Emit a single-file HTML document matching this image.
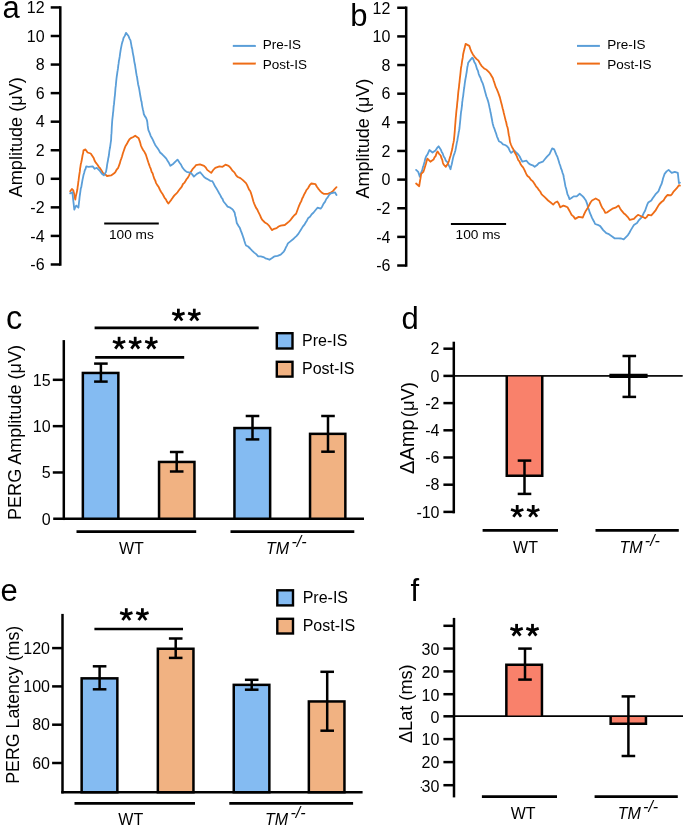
<!DOCTYPE html>
<html><head><meta charset="utf-8"><style>
html,body{margin:0;padding:0;background:#fff;}
svg{display:block;will-change:transform;}
text{font-family:"Liberation Sans", sans-serif;fill:#000;}
</style></head><body>
<svg width="685" height="827" viewBox="0 0 685 827">
<rect width="685" height="827" fill="#fff"/>
<line x1="60.30" y1="6.19" x2="60.30" y2="265.73" stroke="#000" stroke-width="2.5" stroke-linecap="butt"/>
<line x1="50.70" y1="264.48" x2="60.30" y2="264.48" stroke="#000" stroke-width="2.5" stroke-linecap="butt"/>
<text x="44.60" y="270.21" font-size="16" text-anchor="end"  >-6</text>
<line x1="50.70" y1="235.92" x2="60.30" y2="235.92" stroke="#000" stroke-width="2.5" stroke-linecap="butt"/>
<text x="44.60" y="241.65" font-size="16" text-anchor="end"  >-4</text>
<line x1="50.70" y1="207.36" x2="60.30" y2="207.36" stroke="#000" stroke-width="2.5" stroke-linecap="butt"/>
<text x="44.60" y="213.09" font-size="16" text-anchor="end"  >-2</text>
<line x1="50.70" y1="178.80" x2="60.30" y2="178.80" stroke="#000" stroke-width="2.5" stroke-linecap="butt"/>
<text x="44.60" y="184.53" font-size="16" text-anchor="end"  >0</text>
<line x1="50.70" y1="150.24" x2="60.30" y2="150.24" stroke="#000" stroke-width="2.5" stroke-linecap="butt"/>
<text x="44.60" y="155.97" font-size="16" text-anchor="end"  >2</text>
<line x1="50.70" y1="121.68" x2="60.30" y2="121.68" stroke="#000" stroke-width="2.5" stroke-linecap="butt"/>
<text x="44.60" y="127.41" font-size="16" text-anchor="end"  >4</text>
<line x1="50.70" y1="93.12" x2="60.30" y2="93.12" stroke="#000" stroke-width="2.5" stroke-linecap="butt"/>
<text x="44.60" y="98.85" font-size="16" text-anchor="end"  >6</text>
<line x1="50.70" y1="64.56" x2="60.30" y2="64.56" stroke="#000" stroke-width="2.5" stroke-linecap="butt"/>
<text x="44.60" y="70.29" font-size="16" text-anchor="end"  >8</text>
<line x1="50.70" y1="36.00" x2="60.30" y2="36.00" stroke="#000" stroke-width="2.5" stroke-linecap="butt"/>
<text x="44.60" y="41.73" font-size="16" text-anchor="end"  >10</text>
<line x1="50.70" y1="7.44" x2="60.30" y2="7.44" stroke="#000" stroke-width="2.5" stroke-linecap="butt"/>
<text x="44.60" y="13.17" font-size="16" text-anchor="end"  >12</text>
<text x="2.60" y="17.60" font-size="31" text-anchor="start"  >a</text>
<text transform="translate(22.00,197.30) rotate(-90)" font-size="18" textLength="120" lengthAdjust="spacingAndGlyphs">Amplitude (<tspan>&#956;</tspan>V)</text>
<line x1="406.20" y1="6.51" x2="406.20" y2="266.77" stroke="#000" stroke-width="2.5" stroke-linecap="butt"/>
<line x1="397.20" y1="265.52" x2="406.20" y2="265.52" stroke="#000" stroke-width="2.5" stroke-linecap="butt"/>
<text x="390.40" y="271.25" font-size="16" text-anchor="end"  >-6</text>
<line x1="397.20" y1="236.88" x2="406.20" y2="236.88" stroke="#000" stroke-width="2.5" stroke-linecap="butt"/>
<text x="390.40" y="242.61" font-size="16" text-anchor="end"  >-4</text>
<line x1="397.20" y1="208.24" x2="406.20" y2="208.24" stroke="#000" stroke-width="2.5" stroke-linecap="butt"/>
<text x="390.40" y="213.97" font-size="16" text-anchor="end"  >-2</text>
<line x1="397.20" y1="179.60" x2="406.20" y2="179.60" stroke="#000" stroke-width="2.5" stroke-linecap="butt"/>
<text x="390.40" y="185.33" font-size="16" text-anchor="end"  >0</text>
<line x1="397.20" y1="150.96" x2="406.20" y2="150.96" stroke="#000" stroke-width="2.5" stroke-linecap="butt"/>
<text x="390.40" y="156.69" font-size="16" text-anchor="end"  >2</text>
<line x1="397.20" y1="122.32" x2="406.20" y2="122.32" stroke="#000" stroke-width="2.5" stroke-linecap="butt"/>
<text x="390.40" y="128.05" font-size="16" text-anchor="end"  >4</text>
<line x1="397.20" y1="93.68" x2="406.20" y2="93.68" stroke="#000" stroke-width="2.5" stroke-linecap="butt"/>
<text x="390.40" y="99.41" font-size="16" text-anchor="end"  >6</text>
<line x1="397.20" y1="65.04" x2="406.20" y2="65.04" stroke="#000" stroke-width="2.5" stroke-linecap="butt"/>
<text x="390.40" y="70.77" font-size="16" text-anchor="end"  >8</text>
<line x1="397.20" y1="36.40" x2="406.20" y2="36.40" stroke="#000" stroke-width="2.5" stroke-linecap="butt"/>
<text x="390.40" y="42.13" font-size="16" text-anchor="end"  >10</text>
<line x1="397.20" y1="7.76" x2="406.20" y2="7.76" stroke="#000" stroke-width="2.5" stroke-linecap="butt"/>
<text x="390.40" y="13.49" font-size="16" text-anchor="end"  >12</text>
<text x="350.20" y="26.20" font-size="31" text-anchor="start"  >b</text>
<text transform="translate(368.80,198.60) rotate(-90)" font-size="18" textLength="120" lengthAdjust="spacingAndGlyphs">Amplitude (<tspan>&#956;</tspan>V)</text>
<line x1="232.80" y1="45.90" x2="255.80" y2="45.90" stroke="#5a9ed8" stroke-width="2.0" stroke-linecap="butt"/>
<line x1="232.80" y1="63.60" x2="255.80" y2="63.60" stroke="#ee6c16" stroke-width="2.0" stroke-linecap="butt"/>
<text x="262.80" y="49.40" font-size="13.5" text-anchor="start"  >Pre-IS</text>
<text x="262.80" y="68.80" font-size="13.5" text-anchor="start"  >Post-IS</text>
<line x1="577.00" y1="45.90" x2="599.90" y2="45.90" stroke="#5a9ed8" stroke-width="2.0" stroke-linecap="butt"/>
<line x1="577.00" y1="63.60" x2="599.90" y2="63.60" stroke="#ee6c16" stroke-width="2.0" stroke-linecap="butt"/>
<text x="607.30" y="49.40" font-size="13.5" text-anchor="start"  >Pre-IS</text>
<text x="607.30" y="68.80" font-size="13.5" text-anchor="start"  >Post-IS</text>
<line x1="104.20" y1="223.50" x2="158.80" y2="223.50" stroke="#000" stroke-width="2.0" stroke-linecap="butt"/>
<text x="131.40" y="239.30" font-size="13.7" text-anchor="middle"  >100 ms</text>
<line x1="450.90" y1="224.00" x2="506.10" y2="224.00" stroke="#000" stroke-width="2.0" stroke-linecap="butt"/>
<text x="478.00" y="239.30" font-size="13.7" text-anchor="middle"  >100 ms</text>
<polyline points="70.2,191.3 71.9,188.9 73.3,190.3 73.8,192.4 74.3,194.5 74.8,197.4 75.3,199.5 75.8,196.4 76.3,194.4 76.9,191.7 77.4,189.3 77.7,186.5 78.0,184.8 78.3,182.0 78.6,180.2 78.9,177.5 79.2,175.3 79.5,173.5 79.8,171.7 80.1,168.6 80.4,166.8 80.8,164.1 81.3,162.3 81.7,160.3 82.2,157.5 82.6,155.0 83.1,153.3 83.5,150.4 85.5,149.4 87.6,152.5 90.7,153.5 92.7,156.6 93.7,158.1 94.8,161.1 95.8,162.7 97.3,164.5 98.8,166.8 100.2,168.4 101.5,170.4 102.9,172.9 105.0,174.2 107.0,176.0 111.1,175.4 114.2,173.3 115.5,171.8 116.9,169.3 118.2,167.8 119.0,165.6 119.8,163.4 120.5,160.7 121.3,158.6 122.1,156.2 122.9,153.2 123.8,150.7 124.6,148.4 125.4,146.3 126.8,144.1 128.1,141.5 129.5,139.2 131.4,137.8 133.3,137.0 135.2,135.7 138.7,138.2 139.4,140.4 140.2,142.6 140.9,145.5 141.7,147.4 143.1,150.0 144.4,151.8 145.8,154.5 146.6,157.0 147.4,159.5 148.3,162.3 149.1,164.6 149.9,166.8 150.8,168.9 151.7,172.0 152.6,173.3 153.4,176.0 154.3,178.8 155.2,180.4 156.1,183.1 157.3,185.1 158.5,186.7 159.8,189.5 161.0,191.7 162.2,193.4 163.4,195.5 164.6,197.9 165.9,199.3 167.1,201.8 168.3,203.6 169.8,201.7 171.4,199.6 172.9,197.4 174.4,195.4 175.9,194.0 177.5,192.3 179.1,190.0 180.6,188.2 181.8,186.6 183.0,184.0 184.3,182.9 185.5,181.0 186.7,179.0 187.9,177.6 189.1,175.3 190.4,172.6 191.6,170.7 192.8,168.8 194.4,167.2 195.9,165.2 200.0,164.3 204.1,165.8 205.6,167.3 207.2,169.9 209.2,171.4 211.2,172.9 213.2,170.0 215.3,167.8 219.4,166.4 222.5,166.8 225.5,164.7 228.6,165.8 230.6,167.9 232.7,170.9 234.4,172.4 236.1,175.3 237.8,177.0 240.4,178.1 242.9,180.1 246.0,183.1 247.0,184.9 248.0,187.1 249.1,189.7 250.1,190.8 251.1,193.4 251.9,195.9 252.6,198.6 253.4,201.5 254.2,203.6 255.2,206.0 256.2,208.1 257.2,209.4 258.2,211.7 259.2,213.6 260.2,215.6 261.3,218.3 262.3,219.9 264.9,222.5 267.4,224.0 268.9,225.6 270.4,227.7 271.9,230.1 274.2,228.8 276.6,228.1 278.6,226.5 280.7,225.6 284.8,225.0 286.9,223.3 288.9,221.6 290.7,219.8 292.5,217.4 294.3,215.2 296.1,213.8 297.1,211.0 298.1,208.2 299.1,205.6 300.1,203.3 301.2,201.4 302.2,198.5 303.2,196.7 304.2,194.4 305.3,192.5 306.3,190.3 308.0,188.2 309.7,185.2 311.4,183.5 315.5,184.2 316.9,186.7 318.2,188.6 319.6,190.3 321.6,192.5 323.6,193.8 327.7,193.8 330.2,192.9 332.8,191.3 334.6,189.1 336.5,187.2" fill="none" stroke="#ee6c16" stroke-width="1.8" stroke-linejoin="round" stroke-linecap="round"/>
<polyline points="70.2,193.4 72.3,192.3 72.6,194.7 72.9,196.8 73.2,199.9 73.4,201.7 73.7,204.2 74.0,206.9 74.3,209.7 75.3,207.2 76.3,205.6 78.4,207.7 78.7,205.2 79.0,202.5 79.3,200.1 79.5,197.9 79.8,195.5 80.1,193.5 80.4,191.3 80.8,188.4 81.3,187.1 81.7,184.5 82.2,181.6 82.6,179.4 83.1,177.1 83.5,175.0 84.2,172.7 84.8,170.2 85.5,169.0 86.2,166.4 88.6,166.8 92.7,166.4 94.7,168.8 96.8,167.8 99.9,170.9 101.9,173.7 103.9,175.4 106.0,171.9 106.4,169.7 106.8,167.5 107.1,164.9 107.5,162.7 107.9,160.8 108.2,158.6 108.6,157.1 109.0,154.5 109.3,151.7 109.7,149.1 110.0,147.8 110.4,144.9 110.8,142.0 111.1,140.0 111.2,137.8 111.3,135.0 111.5,133.4 111.6,131.7 111.7,129.3 111.8,126.9 112.0,124.1 112.1,122.2 112.3,119.8 112.6,117.2 112.8,115.7 113.0,113.1 113.3,111.1 113.5,108.3 113.7,105.9 114.0,104.4 114.2,101.7 114.4,100.0 114.6,97.6 114.9,95.3 115.1,93.0 115.3,90.7 115.5,87.8 115.8,85.9 116.0,83.4 116.2,81.3 116.5,78.5 116.8,76.2 117.1,74.2 117.4,71.9 117.7,70.2 118.0,68.2 118.3,65.4 118.6,63.7 118.9,60.9 119.3,59.1 119.7,56.7 120.1,53.6 120.5,51.0 120.9,48.7 121.3,46.6 121.8,44.1 122.4,41.9 123.0,40.3 123.5,38.0 124.8,35.9 126.0,32.9 128.5,36.0 129.5,38.6 130.5,40.4 130.9,42.7 131.4,45.3 131.8,47.8 132.3,49.3 132.7,52.3 133.2,54.9 133.6,56.8 134.0,59.4 134.3,61.6 134.7,63.5 135.1,65.3 135.5,68.3 135.8,70.0 136.2,72.8 136.6,75.2 137.0,76.7 137.3,79.0 137.7,81.3 138.1,84.2 138.6,86.3 139.0,87.9 139.4,90.2 139.8,92.6 140.3,95.8 140.7,97.7 141.1,100.4 141.6,101.9 142.0,105.1 142.5,107.6 142.9,109.5 143.4,111.5 143.8,114.0 144.8,116.1 145.9,117.6 146.9,120.0 147.3,122.0 147.7,125.7 148.0,127.8 148.4,130.2 149.6,132.9 150.8,136.1 152.0,138.2 153.0,140.1 154.1,142.7 155.1,144.7 156.1,146.3 157.4,148.0 158.8,150.1 160.1,152.5 162.2,154.3 164.2,156.3 166.3,158.6 167.7,161.1 169.0,163.1 170.4,165.8 173.4,163.7 175.4,161.6 177.5,159.6 179.6,162.7 181.1,164.8 182.6,167.8 184.6,170.3 186.7,171.9 190.8,172.9 192.4,174.6 193.9,176.6 196.9,173.9 200.0,172.2 202.1,174.5 204.1,177.0 206.1,178.4 208.2,179.5 210.2,180.8 212.3,181.1 213.6,183.4 215.0,186.3 216.3,188.2 217.7,190.6 219.0,193.0 220.4,195.4 221.4,197.5 222.5,198.9 223.5,201.5 225.6,204.0 227.6,206.6 229.6,207.3 231.7,208.7 233.2,210.2 234.7,212.8 235.2,215.7 235.8,217.5 236.3,220.4 236.8,223.0 238.4,225.8 239.9,228.1 240.9,230.9 241.9,233.4 242.9,236.3 243.7,238.6 244.4,241.0 245.2,243.5 246.0,245.5 248.1,246.5 250.1,248.5 252.1,250.6 254.2,252.6 256.2,254.1 258.2,256.3 260.8,256.4 263.4,257.1 265.4,258.3 267.5,258.9 269.5,259.8 272.1,258.1 274.6,256.3 277.6,255.8 280.7,254.7 283.8,251.6 284.8,250.0 285.9,247.4 286.9,245.6 287.9,243.4 290.4,241.4 293.0,239.3 294.7,237.6 296.4,236.1 298.1,234.2 299.4,232.1 300.6,230.2 301.9,228.1 303.2,226.1 304.5,224.6 305.8,222.2 307.0,220.4 308.3,217.9 310.0,216.7 311.7,214.2 313.4,212.8 315.4,210.3 317.5,207.7 320.6,208.7 322.1,206.7 323.6,203.6 325.0,201.9 326.3,199.0 327.7,197.4 329.2,194.9 330.8,193.4 334.9,192.3 336.5,195.0" fill="none" stroke="#5a9ed8" stroke-width="1.8" stroke-linejoin="round" stroke-linecap="round"/>
<polyline points="416.1,169.9 418.2,171.9 419.0,174.2 419.8,176.6 420.6,173.9 421.5,171.8 422.3,169.9 422.9,167.1 423.5,165.6 424.1,163.5 424.7,161.3 425.3,158.6 426.3,156.0 427.4,154.6 428.4,152.3 429.4,150.0 432.5,152.5 435.5,150.4 437.1,147.9 438.6,146.3 440.7,149.4 441.7,151.9 442.7,153.5 443.7,156.5 444.8,158.0 445.8,160.7 447.8,162.7 448.7,165.4 449.6,166.9 450.5,169.2 451.1,166.5 451.7,164.5 452.3,161.6 452.9,158.6 453.7,155.5 454.6,153.1 455.4,150.4 455.9,147.9 456.4,145.1 456.9,142.4 457.4,140.2 457.8,137.5 458.2,135.6 458.7,132.3 459.1,130.5 459.5,128.0 459.7,125.6 460.0,122.8 460.2,120.8 460.4,118.8 460.6,116.4 460.9,113.5 461.1,111.7 461.4,110.1 461.7,107.6 462.0,105.7 462.2,102.4 462.5,100.4 462.8,97.9 463.1,96.6 463.4,93.8 463.7,91.5 463.9,89.6 464.2,88.0 464.5,85.7 464.8,83.1 465.2,80.5 465.6,78.1 465.9,76.8 466.3,74.1 466.7,72.0 467.1,69.0 467.4,66.7 467.8,65.2 468.2,62.7 470.2,60.1 472.3,57.6 473.3,59.1 474.4,62.2 475.4,63.7 476.2,66.3 477.0,69.0 477.9,70.6 478.7,74.0 479.5,76.0 480.5,77.8 481.6,81.2 482.6,83.1 483.4,85.6 484.1,88.1 484.9,90.9 485.6,93.4 486.4,96.5 487.1,98.2 487.9,100.6 488.7,103.6 489.2,105.9 489.6,107.8 490.1,109.9 490.5,112.3 491.0,114.4 491.4,116.8 491.9,119.2 492.3,121.5 492.8,124.0 493.6,126.8 494.4,128.7 495.3,131.4 496.1,133.5 496.9,136.3 497.9,138.6 498.9,141.2 500.9,142.2 503.0,144.3 505.1,145.0 507.1,146.3 508.5,147.9 509.8,151.0 511.2,152.9 514.2,150.4 516.2,152.5 518.3,154.5 519.7,156.5 521.0,159.3 522.4,161.7 526.5,160.7 528.5,163.2 530.6,164.7 532.7,165.3 534.7,166.8 536.8,165.3 538.8,163.1 542.8,161.7 545.0,159.0 547.0,156.6 549.5,154.1 550.9,151.2 552.2,148.4 554.2,149.4 555.2,151.8 556.3,154.6 557.3,156.6 558.0,158.8 558.8,161.2 559.5,163.7 560.3,165.8 561.1,168.7 561.8,170.2 562.6,173.1 563.4,175.0 563.8,177.5 564.2,179.6 564.6,181.6 565.0,183.8 565.4,186.2 566.1,188.4 566.8,191.2 567.5,194.4 568.5,196.2 569.5,199.1 571.5,198.0 573.6,196.4 576.7,196.4 579.7,193.8 582.8,196.4 584.3,198.2 585.9,200.5 586.6,202.4 587.4,204.6 588.1,207.8 588.9,209.7 589.9,212.9 591.0,215.4 592.0,217.9 593.0,219.7 594.1,221.7 595.1,224.0 597.7,224.8 600.2,226.1 601.7,228.1 603.2,230.1 606.3,233.2 608.3,233.8 610.4,235.3 612.5,236.7 614.5,238.3 618.6,238.3 621.2,238.5 623.7,239.3 626.7,236.3 628.1,234.8 629.4,232.7 630.8,230.1 632.3,227.6 633.9,225.0 637.0,223.0 639.0,220.1 641.1,217.9 642.4,216.1 643.8,212.9 645.1,210.7 646.1,207.8 647.2,204.7 648.2,202.6 651.3,200.5 652.7,198.3 654.0,196.4 655.4,194.4 658.4,191.3 659.4,188.9 660.5,186.2 661.5,184.2 662.3,181.6 663.0,178.5 663.8,176.2 664.6,173.9 666.6,171.4 668.6,169.9 671.7,172.9 674.8,171.9 677.8,172.9 678.1,175.3 678.3,177.5 678.6,180.0 678.9,183.1 679.9,182.7" fill="none" stroke="#5a9ed8" stroke-width="1.8" stroke-linejoin="round" stroke-linecap="round"/>
<polyline points="416.1,183.5 419.2,186.2 419.6,183.5 420.0,181.0 420.4,178.9 420.8,176.4 421.2,173.9 423.3,171.9 424.0,170.0 424.7,167.7 425.4,165.5 426.0,163.5 426.7,160.7 427.4,158.6 430.4,161.7 433.5,159.6 434.5,157.4 435.6,156.1 436.6,153.1 437.6,151.5 439.1,153.8 440.7,155.5 441.4,158.0 442.2,159.6 442.9,162.8 443.7,164.7 445.8,166.8 447.8,163.7 448.9,161.1 449.9,157.6 450.6,155.4 451.2,153.1 451.9,150.4 452.4,148.3 452.9,145.0 453.4,142.9 453.9,140.4 454.1,138.2 454.3,136.3 454.5,134.1 454.7,131.8 454.9,129.3 455.0,127.5 455.2,125.0 455.4,122.7 455.6,119.9 455.8,117.5 456.0,115.8 456.2,113.1 456.4,111.1 456.7,108.5 456.9,107.1 457.1,104.5 457.3,102.4 457.6,100.1 457.8,97.9 458.0,95.4 458.2,93.2 458.5,90.3 458.7,89.1 459.0,86.8 459.2,84.3 459.5,82.1 459.7,80.0 460.0,77.1 460.2,75.6 460.5,72.8 460.7,70.9 461.0,68.0 461.4,65.9 461.7,64.1 462.1,61.2 462.4,59.5 462.8,57.4 463.1,54.5 463.7,51.8 464.4,49.1 465.0,46.5 465.6,43.9 469.3,45.9 470.3,48.9 471.3,51.5 472.9,54.4 474.4,56.6 476.4,58.8 478.5,60.7 480.0,63.4 481.5,65.8 484.6,68.8 486.6,69.8 488.7,71.9 490.1,73.5 491.4,75.7 492.8,78.0 493.6,80.6 494.3,82.4 495.1,85.0 495.8,87.2 496.8,89.2 497.9,91.8 498.9,94.6 499.9,97.4 500.6,100.3 501.3,103.1 502.0,105.6 502.6,108.3 503.2,110.3 503.8,113.0 504.4,115.4 505.0,117.9 505.6,120.3 506.2,122.3 506.9,125.7 507.5,127.3 508.1,130.1 508.5,133.1 508.9,135.5 509.3,136.8 509.7,139.8 510.1,142.3 511.1,145.0 512.2,147.5 513.2,149.1 514.2,151.5 515.2,153.3 516.3,155.2 517.3,157.6 518.3,160.2 519.4,161.3 520.4,163.7 521.7,165.9 523.1,167.4 524.4,169.9 525.4,172.0 526.5,174.5 527.5,176.0 529.2,177.3 530.9,179.8 532.6,181.1 534.3,183.5 536.0,186.3 537.7,188.2 539.0,190.2 540.2,191.5 541.5,194.1 542.8,195.4 545.0,197.4 548.1,200.5 550.7,202.5 553.2,204.6 555.2,202.5 557.3,201.5 558.8,203.8 560.3,207.3 563.4,205.6 565.5,206.4 567.5,207.3 568.9,209.7 570.2,212.1 571.6,214.8 573.4,216.4 575.2,218.9 578.7,216.9 582.8,217.5 583.8,215.0 584.9,212.7 585.9,210.7 587.4,208.6 588.9,205.6 590.5,202.5 592.0,200.5 595.7,198.5 599.2,200.5 600.2,203.2 601.2,205.7 602.2,207.7 603.8,209.8 605.3,212.8 607.3,212.3 609.4,210.7 612.4,208.7 615.5,207.7 618.6,205.6 620.1,208.4 621.6,210.7 623.7,213.2 625.7,214.8 627.8,217.1 629.8,219.9 633.9,218.9 636.0,216.7 638.0,214.8 641.1,216.2 643.1,217.1 645.1,218.3 646.7,217.1 648.2,214.8 651.3,215.4 653.3,213.2 655.4,210.7 656.8,208.3 658.1,206.1 659.5,204.0 661.5,202.0 663.5,200.5 664.9,198.1 666.2,196.4 667.6,195.0 670.7,195.4 672.2,193.8 673.8,191.3 676.8,188.2 678.9,185.2 679.9,185.6" fill="none" stroke="#ee6c16" stroke-width="1.8" stroke-linejoin="round" stroke-linecap="round"/>
<line x1="63.80" y1="340.10" x2="63.80" y2="520.05" stroke="#000" stroke-width="2.5" stroke-linecap="butt"/>
<line x1="53.20" y1="518.80" x2="364.00" y2="518.80" stroke="#000" stroke-width="2.5" stroke-linecap="butt"/>
<line x1="52.80" y1="379.82" x2="63.80" y2="379.82" stroke="#000" stroke-width="2.5" stroke-linecap="butt"/>
<text x="50.60" y="385.55" font-size="16" text-anchor="end"  >15</text>
<line x1="52.80" y1="426.15" x2="63.80" y2="426.15" stroke="#000" stroke-width="2.5" stroke-linecap="butt"/>
<text x="50.60" y="431.88" font-size="16" text-anchor="end"  >10</text>
<line x1="52.80" y1="472.47" x2="63.80" y2="472.47" stroke="#000" stroke-width="2.5" stroke-linecap="butt"/>
<text x="50.60" y="478.20" font-size="16" text-anchor="end"  >5</text>
<text x="50.60" y="524.53" font-size="16" text-anchor="end"  >0</text>
<text x="6.00" y="328.80" font-size="32.5" text-anchor="start"  >c</text>
<text transform="translate(21.20,520.00) rotate(-90)" font-size="18" textLength="175.0" lengthAdjust="spacingAndGlyphs">PERG Amplitude (<tspan>&#956;</tspan>V)</text>
<rect x="82.85" y="372.95" width="35.50" height="145.80" fill="#84bbf2" stroke="#000" stroke-width="2.5"/>
<rect x="159.05" y="461.95" width="35.40" height="56.80" fill="#f1b282" stroke="#000" stroke-width="2.5"/>
<rect x="234.45" y="428.05" width="35.70" height="90.70" fill="#84bbf2" stroke="#000" stroke-width="2.5"/>
<rect x="310.05" y="433.85" width="35.30" height="84.90" fill="#f1b282" stroke="#000" stroke-width="2.5"/>
<line x1="100.90" y1="363.60" x2="100.90" y2="381.60" stroke="#000" stroke-width="2.5" stroke-linecap="butt"/>
<line x1="94.10" y1="363.60" x2="107.70" y2="363.60" stroke="#000" stroke-width="2.5" stroke-linecap="butt"/>
<line x1="94.10" y1="381.60" x2="107.70" y2="381.60" stroke="#000" stroke-width="2.5" stroke-linecap="butt"/>
<line x1="176.70" y1="452.00" x2="176.70" y2="471.50" stroke="#000" stroke-width="2.5" stroke-linecap="butt"/>
<line x1="169.90" y1="452.00" x2="183.50" y2="452.00" stroke="#000" stroke-width="2.5" stroke-linecap="butt"/>
<line x1="169.90" y1="471.50" x2="183.50" y2="471.50" stroke="#000" stroke-width="2.5" stroke-linecap="butt"/>
<line x1="252.50" y1="416.00" x2="252.50" y2="439.40" stroke="#000" stroke-width="2.5" stroke-linecap="butt"/>
<line x1="245.70" y1="416.00" x2="259.30" y2="416.00" stroke="#000" stroke-width="2.5" stroke-linecap="butt"/>
<line x1="245.70" y1="439.40" x2="259.30" y2="439.40" stroke="#000" stroke-width="2.5" stroke-linecap="butt"/>
<line x1="328.00" y1="416.00" x2="328.00" y2="451.70" stroke="#000" stroke-width="2.5" stroke-linecap="butt"/>
<line x1="321.20" y1="416.00" x2="334.80" y2="416.00" stroke="#000" stroke-width="2.5" stroke-linecap="butt"/>
<line x1="321.20" y1="451.70" x2="334.80" y2="451.70" stroke="#000" stroke-width="2.5" stroke-linecap="butt"/>
<line x1="94.60" y1="327.80" x2="258.70" y2="327.80" stroke="#000" stroke-width="2.7" stroke-linecap="butt"/>
<line x1="95.20" y1="357.40" x2="184.20" y2="357.40" stroke="#000" stroke-width="2.7" stroke-linecap="butt"/>
<line x1="178.40" y1="315.20" x2="178.40" y2="308.70" stroke="#000" stroke-width="2.8" stroke-linecap="butt"/>
<line x1="178.40" y1="315.20" x2="184.58" y2="313.19" stroke="#000" stroke-width="2.8" stroke-linecap="butt"/>
<line x1="178.40" y1="315.20" x2="182.22" y2="320.46" stroke="#000" stroke-width="2.8" stroke-linecap="butt"/>
<line x1="178.40" y1="315.20" x2="174.58" y2="320.46" stroke="#000" stroke-width="2.8" stroke-linecap="butt"/>
<line x1="178.40" y1="315.20" x2="172.22" y2="313.19" stroke="#000" stroke-width="2.8" stroke-linecap="butt"/>
<line x1="194.30" y1="315.20" x2="194.30" y2="308.70" stroke="#000" stroke-width="2.8" stroke-linecap="butt"/>
<line x1="194.30" y1="315.20" x2="200.48" y2="313.19" stroke="#000" stroke-width="2.8" stroke-linecap="butt"/>
<line x1="194.30" y1="315.20" x2="198.12" y2="320.46" stroke="#000" stroke-width="2.8" stroke-linecap="butt"/>
<line x1="194.30" y1="315.20" x2="190.48" y2="320.46" stroke="#000" stroke-width="2.8" stroke-linecap="butt"/>
<line x1="194.30" y1="315.20" x2="188.12" y2="313.19" stroke="#000" stroke-width="2.8" stroke-linecap="butt"/>
<line x1="119.10" y1="343.30" x2="119.10" y2="336.80" stroke="#000" stroke-width="2.8" stroke-linecap="butt"/>
<line x1="119.10" y1="343.30" x2="125.28" y2="341.29" stroke="#000" stroke-width="2.8" stroke-linecap="butt"/>
<line x1="119.10" y1="343.30" x2="122.92" y2="348.56" stroke="#000" stroke-width="2.8" stroke-linecap="butt"/>
<line x1="119.10" y1="343.30" x2="115.28" y2="348.56" stroke="#000" stroke-width="2.8" stroke-linecap="butt"/>
<line x1="119.10" y1="343.30" x2="112.92" y2="341.29" stroke="#000" stroke-width="2.8" stroke-linecap="butt"/>
<line x1="135.20" y1="343.30" x2="135.20" y2="336.80" stroke="#000" stroke-width="2.8" stroke-linecap="butt"/>
<line x1="135.20" y1="343.30" x2="141.38" y2="341.29" stroke="#000" stroke-width="2.8" stroke-linecap="butt"/>
<line x1="135.20" y1="343.30" x2="139.02" y2="348.56" stroke="#000" stroke-width="2.8" stroke-linecap="butt"/>
<line x1="135.20" y1="343.30" x2="131.38" y2="348.56" stroke="#000" stroke-width="2.8" stroke-linecap="butt"/>
<line x1="135.20" y1="343.30" x2="129.02" y2="341.29" stroke="#000" stroke-width="2.8" stroke-linecap="butt"/>
<line x1="151.30" y1="343.30" x2="151.30" y2="336.80" stroke="#000" stroke-width="2.8" stroke-linecap="butt"/>
<line x1="151.30" y1="343.30" x2="157.48" y2="341.29" stroke="#000" stroke-width="2.8" stroke-linecap="butt"/>
<line x1="151.30" y1="343.30" x2="155.12" y2="348.56" stroke="#000" stroke-width="2.8" stroke-linecap="butt"/>
<line x1="151.30" y1="343.30" x2="147.48" y2="348.56" stroke="#000" stroke-width="2.8" stroke-linecap="butt"/>
<line x1="151.30" y1="343.30" x2="145.12" y2="341.29" stroke="#000" stroke-width="2.8" stroke-linecap="butt"/>
<rect x="276.80" y="333.20" width="15.70" height="15.30" fill="#84bbf2" stroke="#000" stroke-width="2.4"/>
<rect x="276.80" y="361.80" width="15.70" height="14.80" fill="#f1b282" stroke="#000" stroke-width="2.4"/>
<text x="302.00" y="345.70" font-size="16" text-anchor="start"  >Pre-IS</text>
<text x="302.00" y="373.80" font-size="16" text-anchor="start"  >Post-IS</text>
<line x1="76.50" y1="531.70" x2="196.20" y2="531.70" stroke="#000" stroke-width="2.7" stroke-linecap="butt"/>
<line x1="230.50" y1="531.70" x2="354.30" y2="531.70" stroke="#000" stroke-width="2.7" stroke-linecap="butt"/>
<text x="119.00" y="553.60" font-size="16" text-anchor="start"  >WT</text>
<text x="266.00" y="553.60" font-size="16" font-style="italic">TM</text>
<text x="291.40" y="546.60" font-size="16" font-style="italic">-/-</text>
<line x1="453.80" y1="341.70" x2="453.80" y2="513.35" stroke="#000" stroke-width="2.5" stroke-linecap="butt"/>
<line x1="443.40" y1="348.70" x2="453.80" y2="348.70" stroke="#000" stroke-width="2.5" stroke-linecap="butt"/>
<text x="439.50" y="354.43" font-size="16" text-anchor="end"  >2</text>
<line x1="443.40" y1="375.90" x2="453.80" y2="375.90" stroke="#000" stroke-width="2.5" stroke-linecap="butt"/>
<text x="439.50" y="381.63" font-size="16" text-anchor="end"  >0</text>
<line x1="443.40" y1="403.10" x2="453.80" y2="403.10" stroke="#000" stroke-width="2.5" stroke-linecap="butt"/>
<text x="439.50" y="408.83" font-size="16" text-anchor="end"  >-2</text>
<line x1="443.40" y1="430.30" x2="453.80" y2="430.30" stroke="#000" stroke-width="2.5" stroke-linecap="butt"/>
<text x="439.50" y="436.03" font-size="16" text-anchor="end"  >-4</text>
<line x1="443.40" y1="457.50" x2="453.80" y2="457.50" stroke="#000" stroke-width="2.5" stroke-linecap="butt"/>
<text x="439.50" y="463.23" font-size="16" text-anchor="end"  >-6</text>
<line x1="443.40" y1="484.70" x2="453.80" y2="484.70" stroke="#000" stroke-width="2.5" stroke-linecap="butt"/>
<text x="439.50" y="490.43" font-size="16" text-anchor="end"  >-8</text>
<line x1="443.40" y1="511.90" x2="453.80" y2="511.90" stroke="#000" stroke-width="2.5" stroke-linecap="butt"/>
<text x="439.50" y="517.63" font-size="16" text-anchor="end"  >-10</text>
<line x1="453.80" y1="375.90" x2="682.60" y2="375.90" stroke="#000" stroke-width="1.4" stroke-linecap="butt"/>
<text x="401.60" y="329.00" font-size="31" text-anchor="start"  >d</text>
<text transform="translate(414.20,474.00) rotate(-90)" font-size="19.5" textLength="54.6" lengthAdjust="spacingAndGlyphs">&#916;Amp</text>
<text transform="translate(414.20,417.20) rotate(-90)" font-size="19" textLength="35.0" lengthAdjust="spacingAndGlyphs">(<tspan>&#956;</tspan>V)</text>
<rect x="506.75" y="375.90" width="35.50" height="99.85" fill="#f9816b"/>
<path d="M506.75,375.90 L506.75,475.75 L542.25,475.75 L542.25,375.90" fill="none" stroke="#000" stroke-width="2.5" stroke-linejoin="miter"/>
<line x1="453.80" y1="375.90" x2="682.60" y2="375.90" stroke="#000" stroke-width="1.4" stroke-linecap="butt"/>
<line x1="524.50" y1="460.60" x2="524.50" y2="493.90" stroke="#000" stroke-width="2.5" stroke-linecap="butt"/>
<line x1="517.70" y1="460.60" x2="531.30" y2="460.60" stroke="#000" stroke-width="2.5" stroke-linecap="butt"/>
<line x1="517.70" y1="493.90" x2="531.30" y2="493.90" stroke="#000" stroke-width="2.5" stroke-linecap="butt"/>
<line x1="517.20" y1="511.50" x2="517.20" y2="505.00" stroke="#000" stroke-width="2.8" stroke-linecap="butt"/>
<line x1="517.20" y1="511.50" x2="523.38" y2="509.49" stroke="#000" stroke-width="2.8" stroke-linecap="butt"/>
<line x1="517.20" y1="511.50" x2="521.02" y2="516.76" stroke="#000" stroke-width="2.8" stroke-linecap="butt"/>
<line x1="517.20" y1="511.50" x2="513.38" y2="516.76" stroke="#000" stroke-width="2.8" stroke-linecap="butt"/>
<line x1="517.20" y1="511.50" x2="511.02" y2="509.49" stroke="#000" stroke-width="2.8" stroke-linecap="butt"/>
<line x1="533.20" y1="511.50" x2="533.20" y2="505.00" stroke="#000" stroke-width="2.8" stroke-linecap="butt"/>
<line x1="533.20" y1="511.50" x2="539.38" y2="509.49" stroke="#000" stroke-width="2.8" stroke-linecap="butt"/>
<line x1="533.20" y1="511.50" x2="537.02" y2="516.76" stroke="#000" stroke-width="2.8" stroke-linecap="butt"/>
<line x1="533.20" y1="511.50" x2="529.38" y2="516.76" stroke="#000" stroke-width="2.8" stroke-linecap="butt"/>
<line x1="533.20" y1="511.50" x2="527.02" y2="509.49" stroke="#000" stroke-width="2.8" stroke-linecap="butt"/>
<line x1="609.40" y1="375.80" x2="647.60" y2="375.80" stroke="#000" stroke-width="4.2" stroke-linecap="butt"/>
<line x1="629.30" y1="356.00" x2="629.30" y2="396.90" stroke="#000" stroke-width="2.5" stroke-linecap="butt"/>
<line x1="622.50" y1="356.00" x2="636.10" y2="356.00" stroke="#000" stroke-width="2.5" stroke-linecap="butt"/>
<line x1="622.50" y1="396.90" x2="636.10" y2="396.90" stroke="#000" stroke-width="2.5" stroke-linecap="butt"/>
<line x1="482.60" y1="530.40" x2="558.00" y2="530.40" stroke="#000" stroke-width="2.7" stroke-linecap="butt"/>
<line x1="595.50" y1="530.40" x2="678.80" y2="530.40" stroke="#000" stroke-width="2.7" stroke-linecap="butt"/>
<text x="513.10" y="552.80" font-size="16" text-anchor="start"  >WT</text>
<text x="619.40" y="552.80" font-size="16" font-style="italic">TM</text>
<text x="644.80" y="545.80" font-size="16" font-style="italic">-/-</text>
<line x1="62.50" y1="613.90" x2="62.50" y2="793.45" stroke="#000" stroke-width="2.5" stroke-linecap="butt"/>
<line x1="61.25" y1="792.20" x2="362.60" y2="792.20" stroke="#000" stroke-width="2.5" stroke-linecap="butt"/>
<line x1="52.10" y1="648.10" x2="62.50" y2="648.10" stroke="#000" stroke-width="2.5" stroke-linecap="butt"/>
<text x="50.00" y="653.83" font-size="16" text-anchor="end"  >120</text>
<line x1="52.10" y1="686.40" x2="62.50" y2="686.40" stroke="#000" stroke-width="2.5" stroke-linecap="butt"/>
<text x="50.00" y="692.13" font-size="16" text-anchor="end"  >100</text>
<line x1="52.10" y1="724.70" x2="62.50" y2="724.70" stroke="#000" stroke-width="2.5" stroke-linecap="butt"/>
<text x="50.00" y="730.43" font-size="16" text-anchor="end"  >80</text>
<line x1="52.10" y1="763.00" x2="62.50" y2="763.00" stroke="#000" stroke-width="2.5" stroke-linecap="butt"/>
<text x="50.00" y="768.73" font-size="16" text-anchor="end"  >60</text>
<text x="0.40" y="600.60" font-size="31" text-anchor="start"  >e</text>
<text transform="translate(18.60,783.80) rotate(-90)" font-size="18" textLength="158.0" lengthAdjust="spacingAndGlyphs">PERG Latency (ms)</text>
<rect x="81.65" y="678.35" width="35.70" height="113.90" fill="#84bbf2" stroke="#000" stroke-width="2.5"/>
<rect x="157.85" y="648.75" width="35.60" height="143.50" fill="#f1b282" stroke="#000" stroke-width="2.5"/>
<rect x="233.75" y="684.85" width="35.60" height="107.40" fill="#84bbf2" stroke="#000" stroke-width="2.5"/>
<rect x="308.85" y="701.45" width="35.60" height="90.80" fill="#f1b282" stroke="#000" stroke-width="2.5"/>
<line x1="99.60" y1="666.30" x2="99.60" y2="689.30" stroke="#000" stroke-width="2.5" stroke-linecap="butt"/>
<line x1="92.80" y1="666.30" x2="106.40" y2="666.30" stroke="#000" stroke-width="2.5" stroke-linecap="butt"/>
<line x1="92.80" y1="689.30" x2="106.40" y2="689.30" stroke="#000" stroke-width="2.5" stroke-linecap="butt"/>
<line x1="175.70" y1="638.50" x2="175.70" y2="657.90" stroke="#000" stroke-width="2.5" stroke-linecap="butt"/>
<line x1="168.90" y1="638.50" x2="182.50" y2="638.50" stroke="#000" stroke-width="2.5" stroke-linecap="butt"/>
<line x1="168.90" y1="657.90" x2="182.50" y2="657.90" stroke="#000" stroke-width="2.5" stroke-linecap="butt"/>
<line x1="251.70" y1="679.80" x2="251.70" y2="689.70" stroke="#000" stroke-width="2.5" stroke-linecap="butt"/>
<line x1="244.90" y1="679.80" x2="258.50" y2="679.80" stroke="#000" stroke-width="2.5" stroke-linecap="butt"/>
<line x1="244.90" y1="689.70" x2="258.50" y2="689.70" stroke="#000" stroke-width="2.5" stroke-linecap="butt"/>
<line x1="327.20" y1="671.80" x2="327.20" y2="730.70" stroke="#000" stroke-width="2.5" stroke-linecap="butt"/>
<line x1="320.40" y1="671.80" x2="334.00" y2="671.80" stroke="#000" stroke-width="2.5" stroke-linecap="butt"/>
<line x1="320.40" y1="730.70" x2="334.00" y2="730.70" stroke="#000" stroke-width="2.5" stroke-linecap="butt"/>
<line x1="94.40" y1="629.00" x2="183.00" y2="629.00" stroke="#000" stroke-width="2.7" stroke-linecap="butt"/>
<line x1="126.30" y1="614.70" x2="126.30" y2="608.20" stroke="#000" stroke-width="2.8" stroke-linecap="butt"/>
<line x1="126.30" y1="614.70" x2="132.48" y2="612.69" stroke="#000" stroke-width="2.8" stroke-linecap="butt"/>
<line x1="126.30" y1="614.70" x2="130.12" y2="619.96" stroke="#000" stroke-width="2.8" stroke-linecap="butt"/>
<line x1="126.30" y1="614.70" x2="122.48" y2="619.96" stroke="#000" stroke-width="2.8" stroke-linecap="butt"/>
<line x1="126.30" y1="614.70" x2="120.12" y2="612.69" stroke="#000" stroke-width="2.8" stroke-linecap="butt"/>
<line x1="142.40" y1="614.70" x2="142.40" y2="608.20" stroke="#000" stroke-width="2.8" stroke-linecap="butt"/>
<line x1="142.40" y1="614.70" x2="148.58" y2="612.69" stroke="#000" stroke-width="2.8" stroke-linecap="butt"/>
<line x1="142.40" y1="614.70" x2="146.22" y2="619.96" stroke="#000" stroke-width="2.8" stroke-linecap="butt"/>
<line x1="142.40" y1="614.70" x2="138.58" y2="619.96" stroke="#000" stroke-width="2.8" stroke-linecap="butt"/>
<line x1="142.40" y1="614.70" x2="136.22" y2="612.69" stroke="#000" stroke-width="2.8" stroke-linecap="butt"/>
<rect x="277.30" y="590.30" width="15.70" height="15.10" fill="#84bbf2" stroke="#000" stroke-width="2.4"/>
<rect x="277.30" y="618.80" width="15.70" height="14.70" fill="#f1b282" stroke="#000" stroke-width="2.4"/>
<text x="302.70" y="603.10" font-size="16" text-anchor="start"  >Pre-IS</text>
<text x="302.70" y="631.20" font-size="16" text-anchor="start"  >Post-IS</text>
<line x1="74.50" y1="803.40" x2="195.00" y2="803.40" stroke="#000" stroke-width="2.7" stroke-linecap="butt"/>
<line x1="229.30" y1="803.40" x2="353.10" y2="803.40" stroke="#000" stroke-width="2.7" stroke-linecap="butt"/>
<text x="118.30" y="825.40" font-size="16" text-anchor="start"  >WT</text>
<text x="265.00" y="825.40" font-size="16" font-style="italic">TM</text>
<text x="290.40" y="818.40" font-size="16" font-style="italic">-/-</text>
<line x1="454.00" y1="617.90" x2="454.00" y2="797.40" stroke="#000" stroke-width="2.5" stroke-linecap="butt"/>
<line x1="443.40" y1="625.80" x2="454.00" y2="625.80" stroke="#000" stroke-width="2.5" stroke-linecap="butt"/>
<line x1="443.40" y1="648.60" x2="454.00" y2="648.60" stroke="#000" stroke-width="2.5" stroke-linecap="butt"/>
<text x="439.40" y="654.90" font-size="16" text-anchor="end"  >30</text>
<line x1="443.40" y1="671.40" x2="454.00" y2="671.40" stroke="#000" stroke-width="2.5" stroke-linecap="butt"/>
<text x="439.40" y="677.70" font-size="16" text-anchor="end"  >20</text>
<line x1="443.40" y1="694.20" x2="454.00" y2="694.20" stroke="#000" stroke-width="2.5" stroke-linecap="butt"/>
<text x="439.40" y="700.50" font-size="16" text-anchor="end"  >10</text>
<line x1="443.40" y1="716.30" x2="454.00" y2="716.30" stroke="#000" stroke-width="2.5" stroke-linecap="butt"/>
<text x="439.40" y="722.60" font-size="16" text-anchor="end"  >0</text>
<line x1="443.40" y1="739.10" x2="454.00" y2="739.10" stroke="#000" stroke-width="2.5" stroke-linecap="butt"/>
<text x="439.40" y="745.40" font-size="16" text-anchor="end"  >10</text>
<line x1="443.40" y1="762.10" x2="454.00" y2="762.10" stroke="#000" stroke-width="2.5" stroke-linecap="butt"/>
<text x="439.40" y="768.40" font-size="16" text-anchor="end"  >20</text>
<line x1="443.40" y1="785.20" x2="454.00" y2="785.20" stroke="#000" stroke-width="2.5" stroke-linecap="butt"/>
<text x="439.40" y="791.50" font-size="16" text-anchor="end"  >30</text>
<circle cx="421.3" cy="787.5" r="0.7" fill="#000"/>
<line x1="454.00" y1="716.30" x2="683.00" y2="716.30" stroke="#000" stroke-width="1.4" stroke-linecap="butt"/>
<text x="410.40" y="601.30" font-size="31" text-anchor="start"  >f</text>
<text transform="translate(412.00,743.00) rotate(-90)" font-size="18" textLength="78.6" lengthAdjust="spacingAndGlyphs">&#916;Lat (ms)</text>
<rect x="506.35" y="664.85" width="35.60" height="51.45" fill="#f9816b"/>
<path d="M506.35,716.30 L506.35,664.85 L541.95,664.85 L541.95,716.30" fill="none" stroke="#000" stroke-width="2.5" stroke-linejoin="miter"/>
<line x1="525.00" y1="648.60" x2="525.00" y2="679.60" stroke="#000" stroke-width="2.5" stroke-linecap="butt"/>
<line x1="518.20" y1="648.60" x2="531.80" y2="648.60" stroke="#000" stroke-width="2.5" stroke-linecap="butt"/>
<line x1="518.20" y1="679.60" x2="531.80" y2="679.60" stroke="#000" stroke-width="2.5" stroke-linecap="butt"/>
<rect x="610.65" y="716.30" width="35.30" height="7.55" fill="#f9816b"/>
<path d="M610.65,716.30 L610.65,723.85 L645.95,723.85 L645.95,716.30" fill="none" stroke="#000" stroke-width="2.5" stroke-linejoin="miter"/>
<line x1="454.00" y1="716.30" x2="683.00" y2="716.30" stroke="#000" stroke-width="1.4" stroke-linecap="butt"/>
<line x1="628.40" y1="696.40" x2="628.40" y2="756.00" stroke="#000" stroke-width="2.5" stroke-linecap="butt"/>
<line x1="621.60" y1="696.40" x2="635.20" y2="696.40" stroke="#000" stroke-width="2.5" stroke-linecap="butt"/>
<line x1="621.60" y1="756.00" x2="635.20" y2="756.00" stroke="#000" stroke-width="2.5" stroke-linecap="butt"/>
<line x1="516.60" y1="630.40" x2="516.60" y2="623.90" stroke="#000" stroke-width="2.8" stroke-linecap="butt"/>
<line x1="516.60" y1="630.40" x2="522.78" y2="628.39" stroke="#000" stroke-width="2.8" stroke-linecap="butt"/>
<line x1="516.60" y1="630.40" x2="520.42" y2="635.66" stroke="#000" stroke-width="2.8" stroke-linecap="butt"/>
<line x1="516.60" y1="630.40" x2="512.78" y2="635.66" stroke="#000" stroke-width="2.8" stroke-linecap="butt"/>
<line x1="516.60" y1="630.40" x2="510.42" y2="628.39" stroke="#000" stroke-width="2.8" stroke-linecap="butt"/>
<line x1="532.50" y1="630.40" x2="532.50" y2="623.90" stroke="#000" stroke-width="2.8" stroke-linecap="butt"/>
<line x1="532.50" y1="630.40" x2="538.68" y2="628.39" stroke="#000" stroke-width="2.8" stroke-linecap="butt"/>
<line x1="532.50" y1="630.40" x2="536.32" y2="635.66" stroke="#000" stroke-width="2.8" stroke-linecap="butt"/>
<line x1="532.50" y1="630.40" x2="528.68" y2="635.66" stroke="#000" stroke-width="2.8" stroke-linecap="butt"/>
<line x1="532.50" y1="630.40" x2="526.32" y2="628.39" stroke="#000" stroke-width="2.8" stroke-linecap="butt"/>
<line x1="481.90" y1="796.60" x2="557.00" y2="796.60" stroke="#000" stroke-width="2.7" stroke-linecap="butt"/>
<line x1="594.60" y1="796.60" x2="677.80" y2="796.60" stroke="#000" stroke-width="2.7" stroke-linecap="butt"/>
<text x="510.70" y="819.00" font-size="16" text-anchor="start"  >WT</text>
<text x="617.70" y="819.00" font-size="16" font-style="italic">TM</text>
<text x="643.10" y="812.00" font-size="16" font-style="italic">-/-</text>
</svg>
</body></html>
